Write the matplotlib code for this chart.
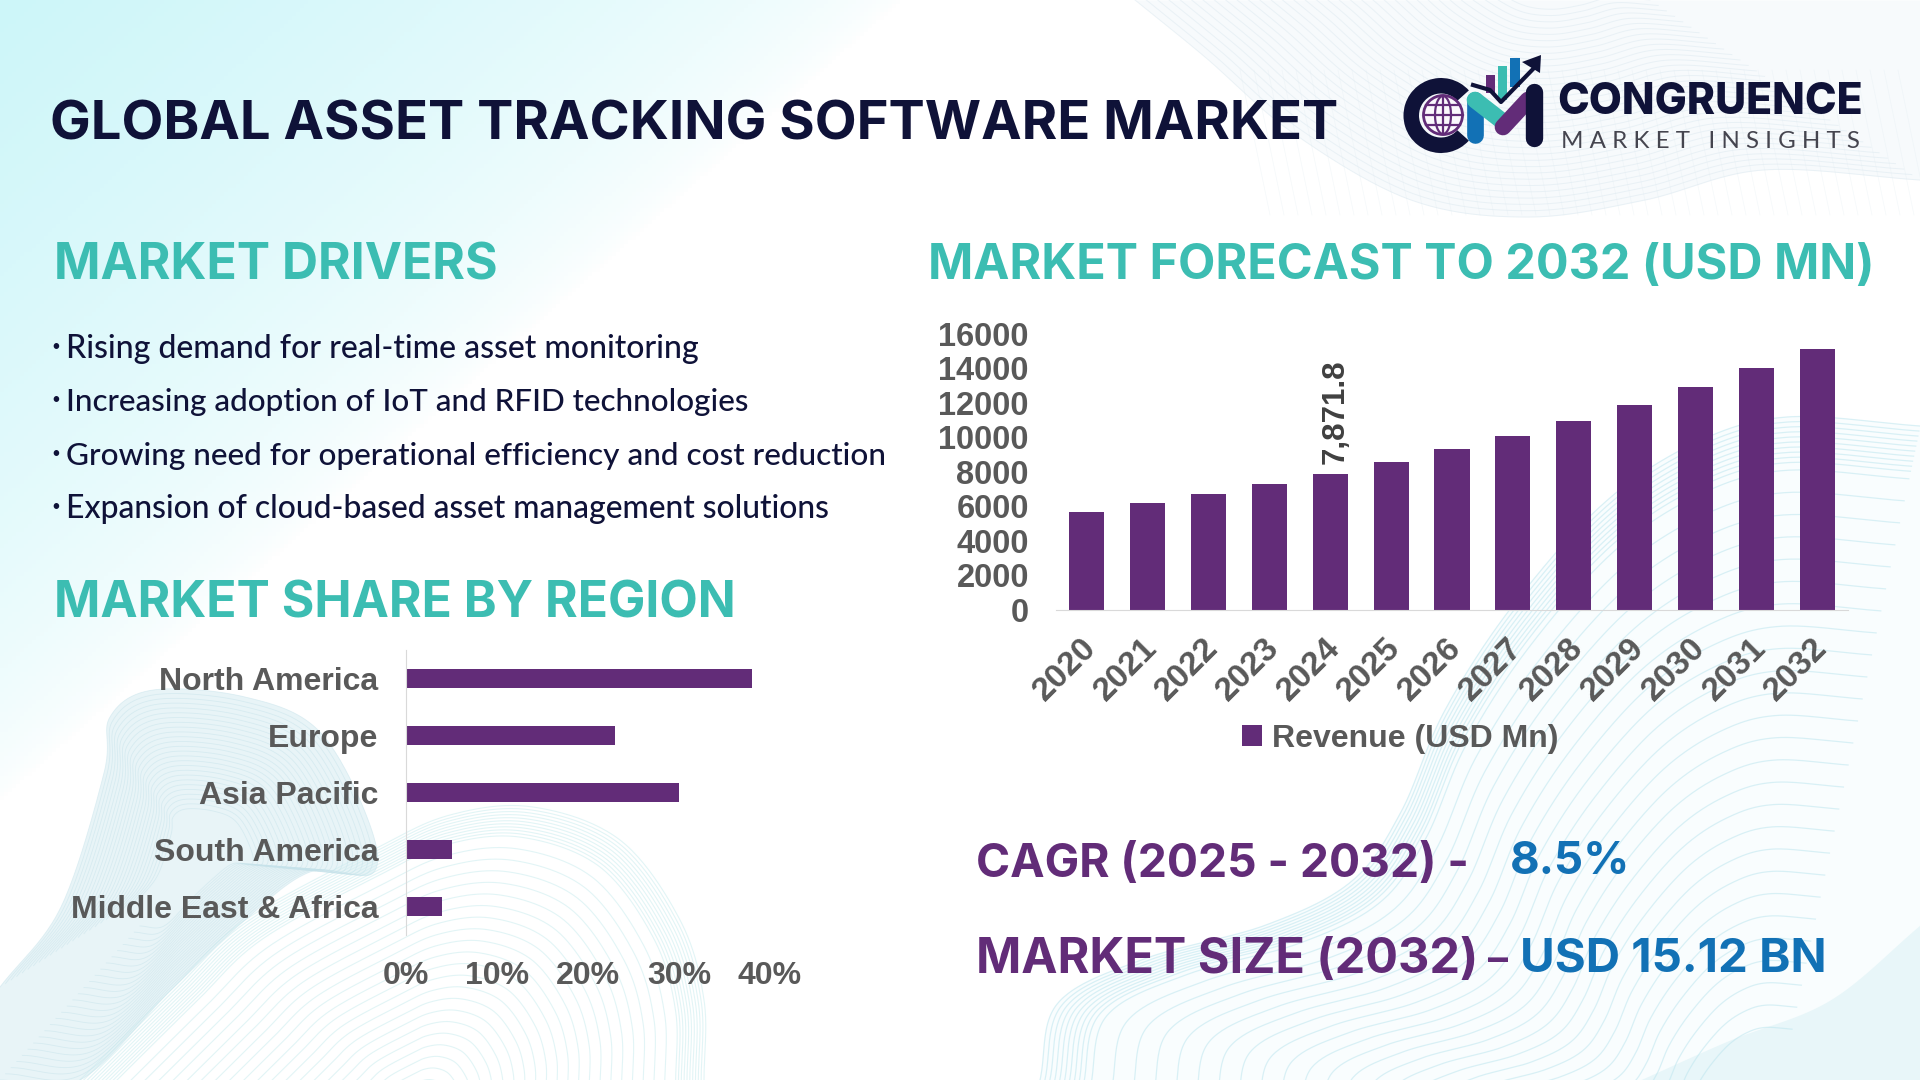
#Asset tracking market infographic
import numpy as np
import matplotlib
matplotlib.use("Agg")
import matplotlib.pyplot as plt
from matplotlib.patches import Wedge, Circle, Polygon
from matplotlib.colors import LinearSegmentedColormap
from matplotlib.transforms import ScaledTranslation

W, H = 1920, 1080

years = ['2020','2021','2022','2023','2024','2025','2026','2027','2028','2029','2030','2031','2032']
revenue = [5670, 6195, 6718, 7297, 7871.8, 8570, 9324, 10077, 10946, 11872, 12915, 14015, 15120]
regions = ['North America','Europe','Asia Pacific','South America','Middle East & Africa']
shares = [38, 23, 30, 5, 4]
drivers = ['Rising demand for real-time asset monitoring',
           'Increasing adoption of IoT and RFID technologies',
           'Growing need for operational efficiency and cost reduction',
           'Expansion of cloud-based asset management solutions']

PURPLE = '#622C78'
TEAL = '#3CBDB2'
NAVY = '#0F1238'
BLUE = '#1271B5'
GREY = '#595959'
CHART_FONT = 'Liberation Sans'
HEAD_FONT = 'Inter'

fig = plt.figure(figsize=(19.2, 10.8), dpi=100, facecolor='white')

def px_axes(x0, y0, x1, y1, **kw):
    # pixel box, y measured from the top
    return fig.add_axes([x0/W, 1-y1/H, (x1-x0)/W, (y1-y0)/H], **kw)

def smooth(pts, n=24):
    # catmull-rom through outline points
    p = np.asarray(pts, float)
    p = np.vstack([2*p[0]-p[1], p, 2*p[-1]-p[-2]])
    out = []
    u = np.linspace(0, 1, n, endpoint=False)[:, None]
    for i in range(1, len(p)-2):
        a, b, c, d = p[i-1], p[i], p[i+1], p[i+2]
        out.append(0.5*(2*b + (c-a)*u + (2*a-5*b+4*c-d)*u**2 + (3*b-a-3*c+d)*u**3))
    out.append(p[-2:-1])
    return np.vstack(out)

def ripple(outline, focus, scales, color, lw=0.8, alpha=0.6):
    # same outline shrunk toward a focus gives the fine wave lines
    f = np.array(focus, float)
    for s in scales:
        q = f + s*(outline - f)
        bg.plot(q[:, 0], q[:, 1], color=color, lw=lw, alpha=alpha, zorder=1)

#background
bg = px_axes(0, 0, W, H)
xx, yy = np.meshgrid(np.linspace(0, W, 480), np.linspace(0, H, 270))
glow = np.clip(1 - (xx/900 + yy/800), 0, 1)**0.6
cmap = LinearSegmentedColormap.from_list('glow', ['#FFFFFF', '#CDF6F9'])
bg.imshow(glow, extent=[0, W, H, 0], cmap=cmap, vmin=0, vmax=1, aspect='auto', zorder=0)
bg.set_xlim(0, W)
bg.set_ylim(H, 0)
bg.axis('off')

# top right ribbon
top_edge = smooth([(1135, 0), (1205, 57), (1293, 133), (1411, 200), (1528, 217),
                   (1645, 200), (1763, 170), (1920, 180)])
bg.fill_between(top_edge[:, 0], 0, top_edge[:, 1], color='#F7FAFC', lw=0, zorder=0.5)
ripple(top_edge, (1560, -60), np.linspace(0.25, 1, 34), '#D8E6EE', lw=0.7, alpha=0.45)
for x in np.arange(1240, 1900, 14):
    bg.plot([x, x+30], [70, 215], color='#E0EBF1', lw=0.5, alpha=0.35, zorder=1)

# bottom right swoosh
right_edge = smooth([(1040, 1080), (1058, 1003), (1144, 959), (1266, 925), (1352, 881),
                     (1401, 812), (1444, 712), (1511, 608), (1603, 504), (1695, 443),
                     (1787, 417), (1920, 426)])
poly = np.vstack([right_edge, [(1920, 1080)]])
bg.add_patch(Polygon(poly, closed=True, fc='#F9FDFE', ec='none', zorder=0.5))
ripple(right_edge, (1760, 1180), np.r_[np.linspace(0.2, 0.93, 26), np.linspace(0.94, 1, 10)],
       '#BEE6EF', lw=0.9, alpha=0.55)
corner = smooth([(1640, 1080), (1730, 1040), (1830, 1000), (1920, 925)])
bg.fill_between(corner[:, 0], corner[:, 1], 1080, color='#E4F5F8', alpha=0.8, lw=0, zorder=0.6)

# bottom left hump behind the region bars
hump = smooth([(80, 1080), (171, 990), (245, 920), (373, 850), (450, 815), (533, 807),
               (620, 840), (680, 920), (704, 1000), (704, 1080)])
ripple(hump, (420, 1110), np.r_[np.linspace(0.1, 0.9, 22), np.linspace(0.91, 1, 10)],
       '#CFEEF0', lw=0.8, alpha=0.6)

# bottom left blob
blob = smooth([(0, 987), (61, 907), (104, 773), (110, 717), (153, 690), (245, 697), (318, 730),
               (367, 817), (373, 873), (310, 872), (245, 920), (171, 990), (80, 1080), (0, 1080)])
bg.add_patch(Polygon(blob, closed=True, fc='#DFF0F5', ec='none', alpha=0.7, zorder=0.6))
ripple(blob, (200, 860), np.linspace(0.3, 1, 26), '#C5E2EA', lw=0.6, alpha=0.5)

# overlay for page text and logo, pixel coords
ov = px_axes(0, 0, W, H)
ov.set_xlim(0, W)
ov.set_ylim(H, 0)
ov.axis('off')
ov.patch.set_alpha(0)
ov.set_zorder(5)

def fit_text(x0, x1, yc, s, color, family=HEAD_FONT, weight='bold', size=30):
    txt = ov.text(x0, yc, s, color=color, family=family, weight=weight, fontsize=size,
                  ha='left', va='center_baseline')
    w = txt.get_window_extent(fig.canvas.get_renderer()).width
    txt.set_fontsize(size*(x1-x0)/w)
    return txt

fit_text(50, 1337, 120, 'GLOBAL ASSET TRACKING SOFTWARE MARKET', NAVY)
fit_text(54, 498, 261, 'MARKET DRIVERS', TEAL)
fit_text(928, 1873, 261, 'MARKET FORECAST TO 2032 (USD MN)', TEAL)
fit_text(54, 736, 599, 'MARKET SHARE BY REGION', TEAL)
for s, x1, yc in zip(drivers, [699, 748, 883, 831], [346, 399, 453, 506]):
    fit_text(66, x1, yc, s, NAVY, family='Lato', weight='medium')
    ov.text(51, yc+1, '•', color=NAVY, family='Lato', fontsize=11, ha='left', va='center')
fit_text(976, 1469, 860, 'CAGR (2025 - 2032) -', PURPLE)
fit_text(1510, 1630, 857, '8.5%', BLUE)
fit_text(976, 1478, 955, 'MARKET SIZE (2032)', PURPLE)
fit_text(1488, 1508, 957, '–', PURPLE)
fit_text(1520, 1827, 955, 'USD 15.12 BN', BLUE)

# logo
ov.add_patch(Wedge((1441, 115.5), 37.5, 42, 318, width=15.5, fc=NAVY, ec='none'))
ov.add_patch(Circle((1443, 115), 19.5, fc='#FBF8FC', ec=PURPLE, lw=2))
arc = np.linspace(-1.5, 1.5, 20)
for dx in (-8, 8):
    ov.plot(1443+dx*np.cos(arc), 115+19*np.sin(arc), color=PURPLE, lw=1.6)
ov.plot([1443, 1443], [96, 134], color=PURPLE, lw=1.6)
for dy in (-10, 0, 10):
    half = np.sqrt(19.5**2 - dy**2)
    ov.plot([1443-half, 1443+half], [115+dy, 115+dy], color=PURPLE, lw=1.6)
ov.plot([1475, 1475], [100, 135], color=BLUE, lw=12, solid_capstyle='round')
ov.plot([1475, 1502], [100, 121], color=TEAL, lw=12, solid_capstyle='round')
ov.plot([1503, 1528], [127, 100], color=PURPLE, lw=12, solid_capstyle='round')
ov.plot([1534, 1534], [92, 138], color=NAVY, lw=12.5, solid_capstyle='round')
for x0, x1, y0, y1, c in [(1486, 1495, 75, 93, PURPLE), (1498, 1507, 66, 100, TEAL), (1510, 1519.5, 58, 87, BLUE)]:
    ov.add_patch(Polygon([(x0, y0), (x1, y0), (x1, y1), (x0, y1)], fc=c, ec='none'))
ov.plot([1473, 1490, 1501, 1535], [85, 90, 102, 67], color=NAVY, lw=3)
ov.add_patch(Polygon([(1541, 55), (1522, 62), (1540, 73)], fc=NAVY, ec='none'))
fit_text(1557, 1863, 98, 'CONGRUENCE', NAVY, family='Inter', weight='heavy')
fit_text(1561, 1859, 140, 'M A R K E T   I N S I G H T S', '#45454F', family='Lato', weight='regular')

# revenue bars
ax = px_axes(1056, 333.7, 1848, 610)
ax.patch.set_alpha(0)
ax.bar(years, revenue, width=0.575, color=PURPLE, label='Revenue (USD Mn)')
ax.set_xlim(-0.5, 12.5)
ax.set_ylim(0, 16000)
ax.set_yticks(range(0, 16001, 2000))
for sp in ('top', 'right', 'left'):
    ax.spines[sp].set_visible(False)
ax.spines['bottom'].set_color('#D9D9D9')
ax.tick_params(axis='both', length=0)
ax.tick_params(axis='y', pad=19.5)
ax.tick_params(axis='x', pad=16)
for lab in ax.get_yticklabels():
    lab.set(family=CHART_FONT, weight='bold', fontsize=23.5, color=GREY, va='center_baseline')
shift = ScaledTranslation(-6/100, 0, fig.dpi_scale_trans)
for lab in ax.get_xticklabels():
    lab.set(family=CHART_FONT, weight='bold', fontsize=24, color=GREY, rotation=45,
            ha='right', rotation_mode='anchor')
    lab.set_transform(lab.get_transform() + shift)
ax.annotate(f'{revenue[4]:,.1f}', (4, revenue[4]), xytext=(3.6, 7), textcoords='offset points',
            rotation=90, ha='center', va='bottom', family=CHART_FONT, weight='bold',
            fontsize=22.5, color='#404040')
ax.legend(loc='center', bbox_to_anchor=((1400-1056)/792, (610-739)/276.3), frameon=False,
          handlelength=0.65, handleheight=0.65, handletextpad=0.3,
          prop={'family': CHART_FONT, 'weight': 'bold', 'size': 23}, labelcolor=GREY)

# region bars
ax2 = px_axes(406, 650, 770, 935)
ax2.patch.set_alpha(0)
ax2.barh(regions, shares, height=0.35, color=PURPLE)
ax2.set_xlim(0, 40)
ax2.set_ylim(4.5, -0.5)
ax2.set_xticks([0, 10, 20, 30, 40])
ax2.set_xticklabels(['0%', '10%', '20%', '30%', '40%'])
for sp in ('top', 'right', 'bottom'):
    ax2.spines[sp].set_visible(False)
ax2.spines['left'].set_color('#D9D9D9')
ax2.tick_params(axis='both', length=0)
ax2.tick_params(axis='y', pad=20)
ax2.tick_params(axis='x', pad=18.7)
for lab in ax2.get_yticklabels() + ax2.get_xticklabels():
    lab.set(family=CHART_FONT, weight='bold', fontsize=23, color=GREY)

fig.savefig('out.png', dpi=100)
